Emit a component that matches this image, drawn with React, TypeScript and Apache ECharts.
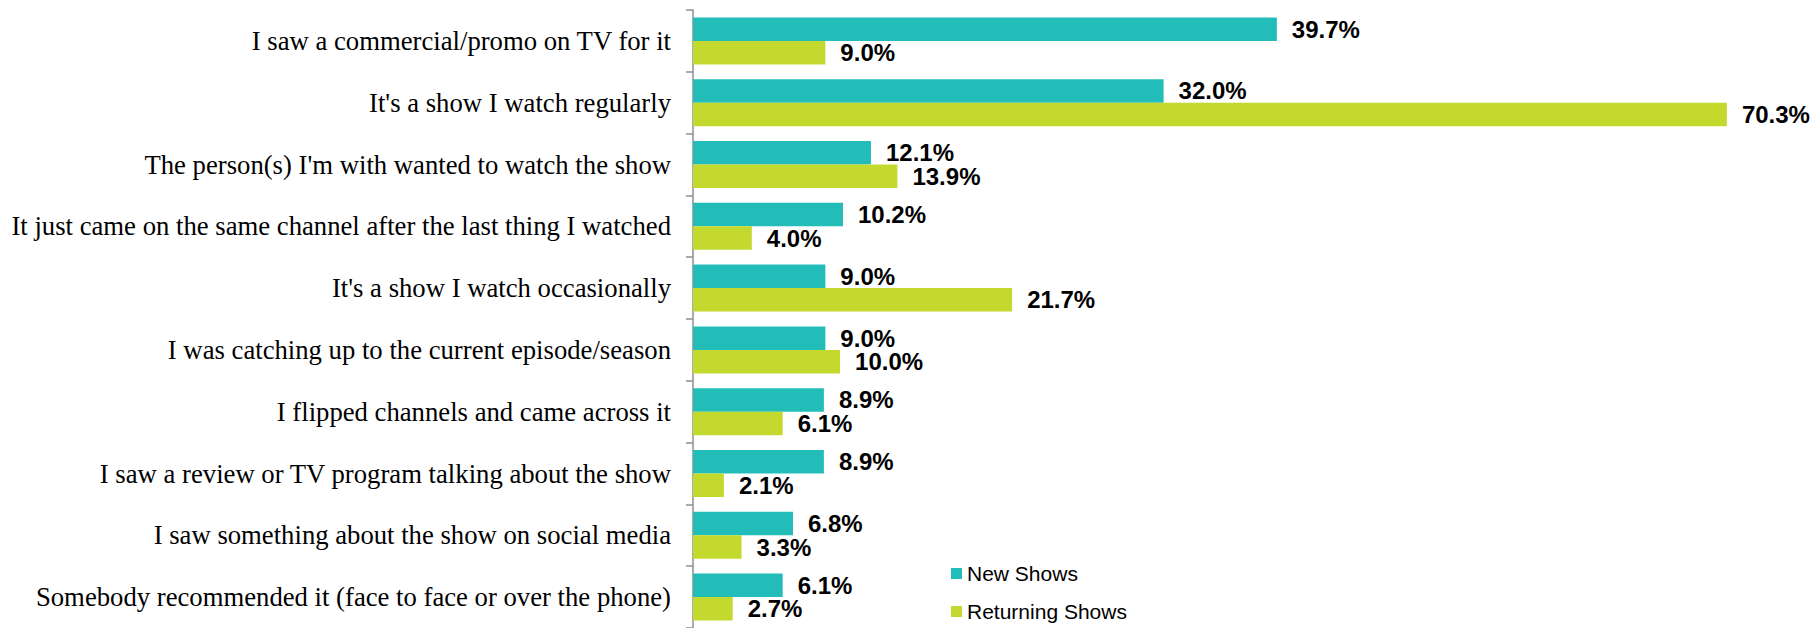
import React, { useEffect, useRef } from "react";
import * as echarts from "echarts";

const categories = [
  "I saw a commercial/promo on TV for it",
  "It's a show I watch regularly",
  "The person(s) I'm with wanted to watch the show",
  "It just came on the same channel after the last thing I watched",
  "It's a show I watch occasionally",
  "I was catching up to the current episode/season",
  "I flipped channels and came across it",
  "I saw a review or TV program talking about the show",
  "I saw something about the show on social media",
  "Somebody recommended it (face to face or over the phone)",
];

const newShows = [39.7, 32.0, 12.1, 10.2, 9.0, 9.0, 8.9, 8.9, 6.8, 6.1];
const returningShows = [9.0, 70.3, 13.9, 4.0, 21.7, 10.0, 6.1, 2.1, 3.3, 2.7];

const seriesNames = ["New Shows", "Returning Shows"];

export default function App() {
  const ref = useRef<HTMLDivElement>(null);

  useEffect(() => {
    if (!ref.current) return;
    const chart = echarts.init(ref.current, undefined, { renderer: "svg" });
    const labelStyle = {
      show: true,
      position: "right" as const,
      distance: 15,
      fontFamily: "Liberation Sans, Arial, sans-serif",
      fontWeight: "bold" as const,
      fontSize: 24,
      color: "#000",
      formatter: (p: any) => Number(p.value).toFixed(1) + "%",
    };
    const legendText = {
      fontFamily: "Liberation Sans, Arial, sans-serif",
      fontSize: 21,
      color: "#000",
    };
    const legendBase = {
      orient: "vertical",
      left: 951,
      itemWidth: 11,
      itemHeight: 11,
      itemGap: 4,
      icon: "rect",
      padding: 0,
      textStyle: legendText,
    };
    chart.setOption({
      animation: false,
      grid: { left: 693, top: 10, right: 20, bottom: 0, containLabel: false },
      legend: [
        { ...legendBase, top: 563, data: [seriesNames[0]] },
        { ...legendBase, top: 601, data: [seriesNames[1]] },
      ],
      xAxis: {
        type: "value",
        min: 0,
        max: 75,
        show: false,
      },
      yAxis: {
        type: "category",
        data: categories,
        inverse: true,
        axisLine: { show: true, lineStyle: { color: "#8f8f8f", width: 1.5 } },
        axisTick: { show: true, length: 7, lineStyle: { color: "#8f8f8f", width: 1.5 } },
        axisLabel: {
          margin: 22,
          fontFamily: "Liberation Serif, Times New Roman, serif",
          fontSize: 26.7,
          color: "#000",
        },
        splitLine: { show: false },
      },
      series: [
        {
          name: seriesNames[0],
          type: "bar",
          data: newShows,
          barGap: "0%",
          barCategoryGap: "24%",
          itemStyle: { color: "#22BDB9" },
          label: labelStyle,
        },
        {
          name: seriesNames[1],
          type: "bar",
          data: returningShows,
          barGap: "0%",
          barCategoryGap: "24%",
          itemStyle: { color: "#C3D92E" },
          label: labelStyle,
        },
      ],
    });
    return () => chart.dispose();
  }, []);

  return (
    <div
      ref={ref}
      style={{ position: "fixed", left: 0, top: 0, width: 1816, height: 628, background: "#fff" }}
    />
  );
}
